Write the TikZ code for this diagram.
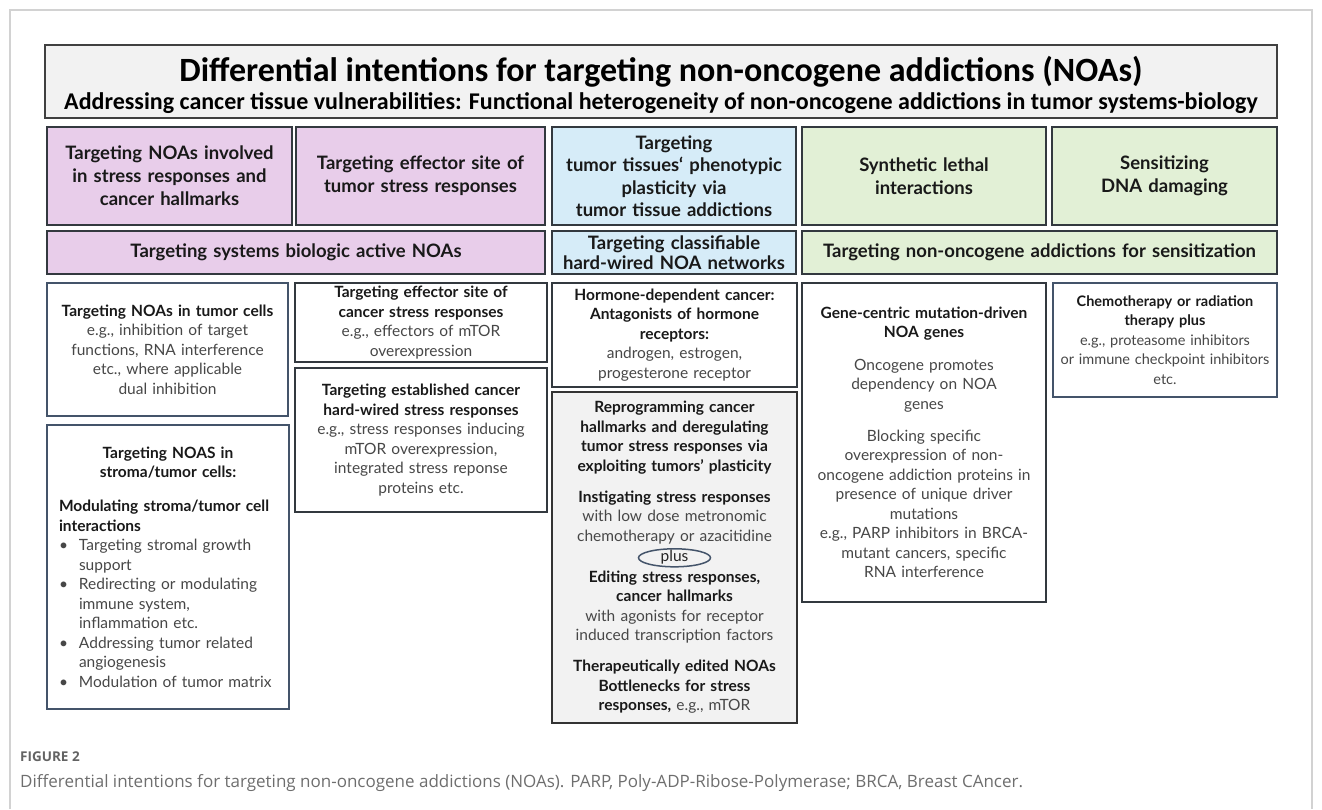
\documentclass[tikz,border=0pt]{standalone}
\usepackage{fontspec}
\setmainfont{Lato}
\newfontfamily\headlinefont{Carlito}
\newfontfamily\captionfont{Open Sans}
\usetikzlibrary{positioning, shapes.geometric}

\definecolor{noapurple}{HTML}{E8CDEA}
\definecolor{noablue}{HTML}{D6ECF8}
\definecolor{noagreen}{HTML}{E2F0D6}
\definecolor{panelgrey}{HTML}{F2F2F2}
\definecolor{edgedark}{HTML}{33393F}
\definecolor{edgeslate}{HTML}{44546A}
\definecolor{bodygrey}{HTML}{474747}
\definecolor{capgrey}{HTML}{6E6E6E}
\definecolor{pageline}{HTML}{D2D2D2}

% text sizes (1pt = 1px of the figure)
\newcommand{\rowfont}{\fontsize{18.5}{23}\selectfont\bfseries\hyphenpenalty=10000}
\newcommand{\cellfont}{\fontsize{15.5}{19.5}\selectfont\hyphenpenalty=10000}
\newcommand{\chemofont}{\fontsize{14.5}{19.5}\selectfont\hyphenpenalty=10000}
\newcommand{\eg}[1]{{\color{bodygrey}\mdseries #1}}
% bullet items, wrapped lines start under the text
\newcommand{\noabullet}{\par\noindent\makebox[20pt][l]{\textbullet}}
\newcommand{\noahang}{\hspace*{20pt}}

\begin{document}
\begin{tikzpicture}[
            x=1pt, y=-1pt,
            panel/.style={draw=edgedark, line width=1.8pt, rectangle, inner sep=0pt, align=center},
            rowbox/.style={panel, font=\rowfont, text=black!90},
            cell/.style={panel, font=\cellfont, text=black!90, fill=white},
            loose/.style={inner sep=0pt, align=center, font=\cellfont, text=black!90}
        ]

            \useasboundingbox (0,0) rectangle (1322,809);

            % --- Page frame ---
            \draw[pageline, line width=1.2pt] (10,809) -- (10,10) -- (1312,10) -- (1312,809);

            % --- Title ---
            \node[panel, draw=black!75, line width=2.2pt, fill=panelgrey, minimum width=1232pt, minimum height=73pt] (title) at (661,81.5) {};
            \node[font=\headlinefont\fontsize{34}{38}\selectfont\bfseries, inner sep=0pt] (maintitle) at (661,72) {Differential intentions for targeting non-oncogene addictions (NOAs)};
            \node[font=\headlinefont\fontsize{24}{28}\selectfont\bfseries, inner sep=0pt] (subtitle) at (661,103) {Addressing cancer tissue vulnerabilities: Functional heterogeneity of non-oncogene addictions in tumor systems-biology};

            % --- Intentions (first row) ---
            \node[rowbox, fill=noapurple, minimum width=245pt, minimum height=98pt, text width=241pt] (hallmarks) at (169.5,176) {Targeting NOAs involved\\in stress responses and\\cancer hallmarks};
            \node[rowbox, fill=noapurple, minimum width=249pt, minimum height=98pt, text width=245pt] (effector) at (420.5,176) {Targeting effector site of\\tumor stress responses};
            \node[rowbox, fill=noablue, minimum width=244pt, minimum height=98pt, text width=242pt, font=\fontsize{18.5}{22.5}\selectfont\bfseries] (plasticity) at (674,176) {Targeting\\tumor tissues‘ phenotypic\\plasticity via\\tumor tissue addictions};
            \node[rowbox, fill=noagreen, minimum width=244pt, minimum height=98pt, text width=240pt] (lethal) at (924,176) {Synthetic lethal\\interactions};
            \node[rowbox, fill=noagreen, minimum width=225pt, minimum height=98pt, text width=221pt] (sensitizing) at (1164.5,176) {Sensitizing\\DNA damaging};

            % --- Groups (second row) ---
            \node[rowbox, fill=noapurple, minimum width=498pt, minimum height=43pt, text width=494pt] (systems) at (296,252.5) {Targeting systems biologic active NOAs};
            \node[rowbox, fill=noablue, minimum width=244pt, minimum height=43pt, text width=242pt, font=\fontsize{18.5}{20}\selectfont\bfseries] (hardwired) at (674,252.5) {Targeting classifiable\\hard-wired NOA networks};
            \node[rowbox, fill=noagreen, minimum width=475pt, minimum height=43pt, text width=471pt] (sensitization) at (1039.5,252.5) {Targeting non-oncogene addictions for sensitization};

            % --- Left column ---
            \node[cell, draw=edgeslate, minimum width=241pt, minimum height=133pt, text width=237pt] (tumorcells) at (167.5,349.5) {{\bfseries Targeting NOAs in tumor cells}\\\eg{e.g., inhibition of target\\functions, RNA interference\\etc., where applicable\\dual inhibition}};
            \node[cell, draw=edgeslate, minimum width=242pt, minimum height=284pt, text width=218pt, align=left] (stroma) at (168,567) {{\centering\bfseries Targeting NOAS in\\stroma/tumor cells:\par}\vspace{14.5pt}
                {\bfseries Modulating stroma/tumor cell\\interactions}\color{bodygrey}
                \noabullet Targeting stromal growth\\\noahang support
                \noabullet Redirecting or modulating\\\noahang immune system,\\\noahang inflammation etc.
                \noabullet Addressing tumor related\\\noahang angiogenesis
                \noabullet Modulation of tumor matrix\par};

            % --- Effector column ---
            \node[cell, minimum width=252pt, minimum height=79pt, text width=248pt] (mtor) at (421,322.5) {{\bfseries Targeting effector site of\\cancer stress responses}\\\eg{e.g., effectors of mTOR\\overexpression}};
            \node[cell, minimum width=252pt, minimum height=144pt, text width=248pt] (established) at (421,440) {{\bfseries Targeting established cancer\\hard-wired stress responses}\\\eg{e.g., stress responses inducing\\mTOR overexpression,\\integrated stress reponse\\proteins etc.}};

            % --- Plasticity column ---
            \node[cell, minimum width=245pt, minimum height=104pt, text width=241pt] (hormone) at (674.5,335) {{\bfseries Hormone-dependent cancer:\\Antagonists of hormone\\receptors:}\\\eg{androgen, estrogen,\\progesterone receptor}};
            \node[cell, fill=panelgrey, draw=black!80, minimum width=245pt, minimum height=331pt] (reprogramming) at (674.5,557.5) {};
            \node[loose, text width=241pt, anchor=north] (instigating) at (674.5,401) {{\bfseries Reprogramming cancer\\hallmarks and deregulating\\tumor stress responses via\\exploiting tumors' plasticity}\\[11.5pt]{\bfseries Instigating stress responses}\\\eg{with low dose metronomic\\chemotherapy or azacitidine}};
            \node[ellipse, draw=edgeslate, line width=1.5pt, font=\cellfont, text=black!85, inner sep=0pt, text height=9pt, text depth=2pt, minimum width=72pt, minimum height=18pt, below=4pt of instigating] (plus) {plus};
            \node[loose, text width=241pt, below=3pt of plus] (editing) {{\bfseries Editing stress responses,\\cancer hallmarks}\\\eg{with agonists for receptor\\induced transcription factors}\\[11.5pt]{\bfseries Therapeutically edited NOAs\\Bottlenecks for stress\\responses,} \eg{e.g., mTOR}};

            % --- Sensitization columns ---
            \node[cell, minimum width=244pt, minimum height=319pt, text width=242pt] (genecentric) at (924,442.5) {{\bfseries Gene-centric mutation-driven\\NOA genes}\\[13pt]\eg{Oncogene promotes\\dependency on NOA\\genes\\[12.5pt]Blocking specific\\overexpression of non-\\oncogene addiction proteins in\\presence of unique driver\\mutations\\e.g., PARP inhibitors in BRCA-\\mutant cancers, specific\\RNA interference}};
            \node[cell, draw=edgeslate, minimum width=224pt, minimum height=114pt, text width=222pt, font=\chemofont] (chemo) at (1165,340) {{\bfseries Chemotherapy or radiation\\therapy plus}\\\eg{e.g., proteasome inhibitors\\or immune checkpoint inhibitors\\etc.}};

            % --- Caption ---
            \node[anchor=west, inner sep=0pt, font=\captionfont\fontsize{13.5}{16}\selectfont\bfseries, text=capgrey!90!black] (figlabel) at (20,757) {FIGURE 2};
            \node[anchor=west, inner sep=0pt, font=\captionfont\fontsize{17}{20}\selectfont, text=capgrey] (figcaption) at (20,783) {Differential intentions for targeting non-oncogene addictions (NOAs). PARP, Poly-ADP-Ribose-Polymerase; BRCA, Breast CAncer.};

        \end{tikzpicture}
\end{document}
